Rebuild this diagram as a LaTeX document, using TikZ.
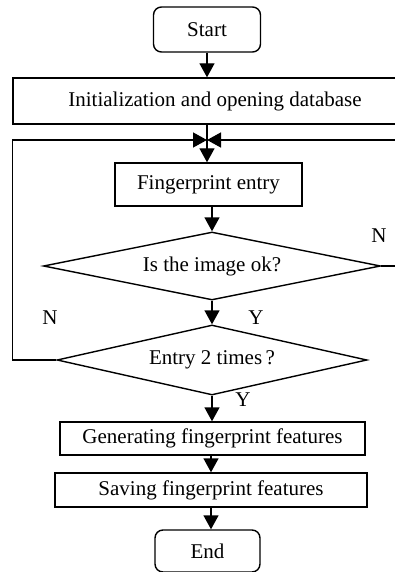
\documentclass[tikz,border=0pt]{standalone}
\usepackage{fontspec}
\setmainfont{Liberation Serif}
\usetikzlibrary{shapes.geometric, arrows.meta, positioning}

\begin{document}
\begin{tikzpicture}[x=1pt, y=-1pt, line width=1.4pt, font=\fontsize{21}{25}\selectfont,
  block/.style={rectangle, draw, inner sep=0pt},
  terminal/.style={rectangle, rounded corners=8pt, draw, inner sep=0pt},
  decision/.style={diamond, draw, inner sep=0pt, aspect=5},
  arr/.style={-{Triangle[length=14pt, width=15pt]}}]
  \clip (0,0) rectangle (395,572);
  \node (start) [terminal, minimum width=107pt, minimum height=45pt] at (207,29.5) {Start};
  \node (init) [block, minimum width=404pt, minimum height=46pt] at (215,101) {Initialization and opening database};
  \coordinate (merge) at (207,140);
  \node (entry) [block, minimum width=187pt, minimum height=43pt] at (208.5,184.5) {Fingerprint entry};
  \node (ok) [decision, minimum width=337pt, minimum height=68pt] at (212,266) {Is the image ok?};
  \node (times) [decision, minimum width=310pt, minimum height=70pt] at (212,360) {Entry 2 times\,?};
  \node (gen) [block, minimum width=305pt, minimum height=33pt] at (212.5,438.5) {Generating fingerprint features};
  \node (save) [block, minimum width=312pt, minimum height=34pt] at (211,490) {Saving fingerprint features};
  \node (end) [terminal, minimum width=105pt, minimum height=42pt] at (207.5,551) {End};

  \node (okno) at (379,236) {N};
  \node (okyes) at (256,318) {Y};
  \node (timesno) at (50,318) {N};
  \node (timesyes) at (243,400) {Y};

  \draw[arr] (start) -- (start |- init.north);
  \draw[arr] (merge |- init.south) -- (merge |- entry.north);
  \draw[arr] (ok.north |- entry.south) -- (ok.north);
  \draw[arr] (ok.south) -- (times.north);
  \draw[arr] (times.south) -- (times.south |- gen.north);
  \draw[arr] (save.north |- gen.south) -- (save.north);
  \draw[arr] (save.south) -- (save.south |- end.north);
  \draw[arr] (times.west) -- (init.west |- times.west) -- (init.west |- merge) -- (merge);
  \draw[arr] (ok.east) -- ++(40,0) |- (merge);
\end{tikzpicture}
\end{document}
